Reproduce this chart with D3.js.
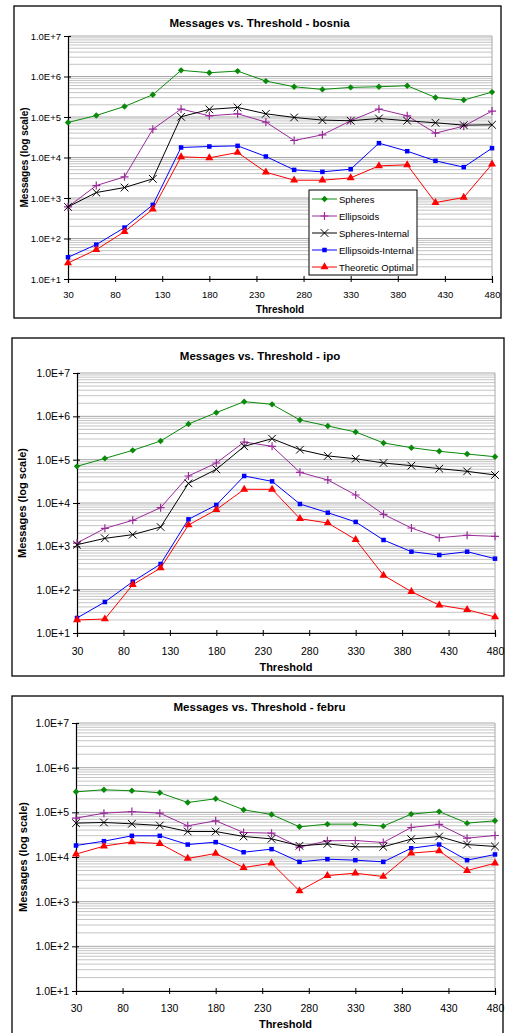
<!DOCTYPE html>
<html>
<head>
<meta charset="utf-8">
<script src="https://cdn.jsdelivr.net/npm/d3@7"></script>
<style>
  body { margin: 0; background: #fff; }
  svg { display: block; font-family: "Liberation Sans", Arial, sans-serif; }
</style>
</head>
<body>
<svg id="chart" width="509" height="1033"></svg>
<script>
// thresholds on the x axis
var thresholds = [30, 60, 90, 120, 150, 180, 210, 240, 270, 300, 330, 360, 390, 420, 450, 480];
var xTicks = [30, 80, 130, 180, 230, 280, 330, 380, 430, 480];
var yTicks = [1e1, 1e2, 1e3, 1e4, 1e5, 1e6, 1e7];
var seriesNames = ["Spheres", "Ellipsoids", "Spheres-Internal", "Ellipsoids-Internal", "Theoretic Optimal"];
var titles = ["Messages vs. Threshold - bosnia", "Messages vs. Threshold - ipo", "Messages vs. Threshold - febru"];

// bosnia
var bosniaSpheres = [73300, 109000, 182000, 354000, 1420000, 1240000, 1360000, 771000, 558000, 480000, 538000, 558000, 592000, 304000, 262000, 412000];
var bosniaEllipsoids = [603, 2030, 3330, 50100, 157000, 107000, 120000, 74800, 26300, 36300, 80700, 157000, 107000, 40000, 59500, 140000];
var bosniaSpheresInt = [603, 1365, 1810, 2970, 101000, 154000, 172000, 120000, 97500, 83800, 80700, 92000, 80700, 72000, 63000, 64200];
var bosniaEllipsoidsInt = [34.4, 70.6, 186, 676, 17700, 18700, 19400, 10600, 4950, 4420, 5140, 22600, 14300, 8270, 5770, 17000];
var bosniaOptimal = [24.8, 53, 148, 527, 10400, 9800, 13300, 4340, 2750, 2750, 3140, 6220, 6590, 771, 1030, 6840];

// ipo
var ipoSpheres = [70200, 107000, 164000, 270000, 665000, 1220000, 2180000, 1890000, 823000, 598000, 435000, 243000, 189000, 156000, 135000, 117000];
var ipoEllipsoids = [1190, 2600, 3980, 7800, 42000, 83800, 256000, 203000, 51000, 34000, 15300, 5470, 2650, 1580, 1800, 1700];
var ipoSpheresInt = [1090, 1530, 1860, 2790, 28400, 59800, 203000, 305000, 170000, 122000, 105000, 83800, 72700, 62000, 53800, 44300];
var ipoEllipsoidsInt = [22.2, 51.9, 153, 391, 4200, 9000, 42000, 31600, 9480, 5980, 3650, 1400, 753, 631, 753, 519];
var ipoOptimal = [20, 21, 130, 316, 3100, 7010, 20700, 20700, 4350, 3450, 1430, 214, 90, 44, 34.5, 23.4];

// febru
var februSpheres = [288000, 320000, 304000, 274000, 166000, 201000, 114000, 89500, 47400, 54400, 54400, 49100, 91200, 104000, 57300, 64600];
var februEllipsoids = [74100, 95900, 104000, 95900, 49900, 64600, 35400, 34200, 16600, 23000, 23400, 21100, 45800, 53500, 26400, 30300];
var februSpheresInt = [57300, 59300, 55300, 50800, 37200, 37200, 28800, 25500, 17800, 19700, 16900, 16900, 25100, 28800, 19000, 17200];
var februEllipsoidsInt = [18100, 22600, 29800, 29800, 19000, 21500, 12800, 15000, 7780, 8930, 8480, 7780, 15700, 19000, 8480, 11400];
var februOptimal = [11600, 17500, 21800, 20000, 9250, 12000, 5800, 7260, 1740, 3840, 4340, 3650, 12200, 13700, 4970, 7260];

var colors = ["#0a8a0a", "#9b2a9b", "#000000", "#0000ff", "#ff0000"];
var symbols = [d3.symbolDiamond2, null, d3.symbolX, d3.symbolSquare2, d3.symbolTriangle];

var svg = d3.select("#chart");

var charts = [
  {box: [14, 6, 487, 312], plot: [68, 492, 36, 279], titleY: 27, tickY: 298, xTitleY: 313, yTitleX: 28, fs: 9.5,
   data: [bosniaSpheres, bosniaEllipsoids, bosniaSpheresInt, bosniaEllipsoidsInt, bosniaOptimal], legend: true},
  {box: [12, 338, 492, 338], plot: [77, 495, 373, 633], titleY: 360, tickY: 655, xTitleY: 671, yTitleX: 26, fs: 10.5,
   data: [ipoSpheres, ipoEllipsoids, ipoSpheresInt, ipoEllipsoidsInt, ipoOptimal]},
  {box: [12, 696, 491, 360], plot: [76, 495, 723, 991], titleY: 711, tickY: 1012, xTitleY: 1028, yTitleX: 27, fs: 10.5,
   data: [februSpheres, februEllipsoids, februSpheresInt, februEllipsoidsInt, februOptimal]}
];

function drawMarker(g, i, x, y) {
  var c = colors[i];
  if (i === 1) {
    g.append("path").attr("d", "M" + (x - 4) + "," + y + "H" + (x + 4) + "M" + x + "," + (y - 4) + "V" + (y + 4))
      .attr("stroke", c).attr("stroke-width", 1.2).attr("fill", "none");
  } else if (i === 2) {
    g.append("path").attr("transform", "translate(" + x + "," + y + ")")
      .attr("d", d3.symbol(d3.symbolX, 40)())
      .attr("stroke", c).attr("stroke-width", 1).attr("fill", "none");
  } else {
    var size = i === 0 ? 26 : i === 3 ? 26 : 28;
    g.append("path").attr("transform", "translate(" + x + "," + y + ")")
      .attr("d", d3.symbol(symbols[i], size)())
      .attr("fill", c).attr("stroke", "none");
  }
}

charts.forEach(function(ch, ci) {
  var g = svg.append("g");
  var p = ch.plot;
  var x = d3.scaleLinear().domain([30, 480]).range([p[0], p[1]]);
  var y = d3.scaleLog().domain([10, 1e7]).range([p[3], p[2]]);

  g.append("rect").attr("x", ch.box[0]).attr("y", ch.box[1]).attr("width", ch.box[2]).attr("height", ch.box[3])
    .attr("fill", "#fff").attr("stroke", "#000").attr("stroke-width", 1.3);

  // minor and major gridlines
  var minor = [];
  for (var e = 1; e < 7; e++) for (var m = 2; m <= 9; m++) minor.push(m * Math.pow(10, e));
  g.selectAll(".minor").data(minor).enter().append("line")
    .attr("x1", p[0]).attr("x2", p[1]).attr("y1", function(d) { return y(d); }).attr("y2", function(d) { return y(d); })
    .attr("stroke", "#c4c4c4").attr("stroke-width", 1);
  g.selectAll(".major").data(yTicks).enter().append("line")
    .attr("x1", p[0]).attr("x2", p[1]).attr("y1", function(d) { return y(d); }).attr("y2", function(d) { return y(d); })
    .attr("stroke", "#a8a8a8").attr("stroke-width", 1);
  g.append("line").attr("x1", p[1]).attr("x2", p[1]).attr("y1", p[2]).attr("y2", p[3]).attr("stroke", "#a8a8a8");

  // axes
  var yAxis = d3.axisLeft(y).tickValues(yTicks).tickSize(4).tickFormat(function(d) { return "1.0E+" + Math.round(Math.log10(d)); });
  var ya = g.append("g").attr("transform", "translate(" + p[0] + ",0)").call(yAxis);
  ya.select(".domain").attr("stroke", "#000").attr("stroke-width", 1.2);
  ya.selectAll("text").attr("font-size", ch.fs).attr("fill", "#000").attr("x", -7);
  ya.selectAll(".tick line").attr("x2", 3).attr("x1", -4).attr("stroke", "#000");

  var xAxis = d3.axisBottom(x).tickValues(xTicks).tickSize(4).tickFormat(d3.format("d"));
  var xa = g.append("g").attr("transform", "translate(0," + p[3] + ")").call(xAxis);
  xa.select(".domain").attr("stroke", "#000").attr("stroke-width", 1.2);
  xa.selectAll(".tick line").attr("y1", -3).attr("y2", 3).attr("stroke", "#000");
  xa.selectAll("text").attr("font-size", ch.fs).attr("fill", "#000").attr("y", null).attr("dy", null)
    .attr("transform", "translate(0," + (ch.tickY - p[3]) + ")");

  // titles
  g.append("text").attr("x", (ch.box[0] + ch.box[0] + ch.box[2]) / 2 + 2).attr("y", ch.titleY)
    .attr("text-anchor", "middle").attr("font-weight", "bold").attr("font-size", 11.5).text(titles[ci]);
  g.append("text").attr("x", (p[0] + p[1]) / 2).attr("y", ch.xTitleY)
    .attr("text-anchor", "middle").attr("font-weight", "bold").attr("font-size", ch.fs + 0.5).text("Threshold");
  g.append("text").attr("transform", "translate(" + ch.yTitleX + "," + (p[2] + p[3]) / 2 + ") rotate(-90)")
    .attr("text-anchor", "middle").attr("font-weight", "bold").attr("font-size", ch.fs + 0.5).text("Messages (log scale)");

  // series
  var line = d3.line().x(function(d) { return x(d[0]); }).y(function(d) { return y(d[1]); });
  ch.data.forEach(function(vals, si) {
    var pts = thresholds.map(function(t, k) { return [t, vals[k]]; });
    g.append("path").datum(pts).attr("d", line).attr("fill", "none").attr("stroke", colors[si]).attr("stroke-width", 1);
    pts.forEach(function(pt) { drawMarker(g, si, x(pt[0]), y(pt[1])); });
  });

  if (ch.legend) {
    var lg = g.append("g");
    lg.append("rect").attr("x", 309).attr("y", 190).attr("width", 108).attr("height", 85)
      .attr("fill", "#fff").attr("stroke", "#000").attr("stroke-width", 1);
    seriesNames.forEach(function(name, si) {
      var ly = 199 + si * 17;
      lg.append("line").attr("x1", 312).attr("x2", 337).attr("y1", ly).attr("y2", ly).attr("stroke", colors[si]);
      drawMarker(lg, si, 324.5, ly);
      lg.append("text").attr("x", 339).attr("y", ly + 3.5).attr("font-size", 9.5).text(name);
    });
  }
});
</script>
</body>
</html>
